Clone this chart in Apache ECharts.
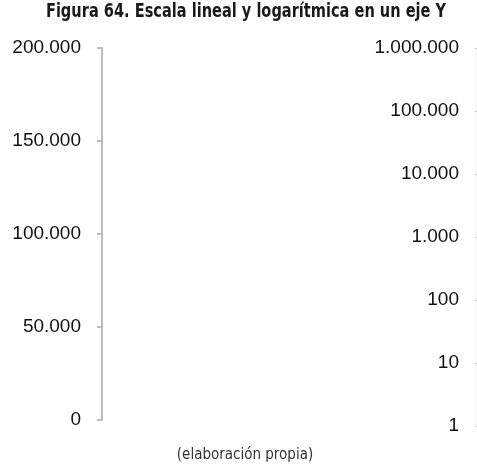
<!DOCTYPE html>
<html>
<head>
<meta charset="utf-8">
<script src="https://cdn.jsdelivr.net/npm/echarts@6/dist/echarts.min.js"></script>
<style>html,body{margin:0;padding:0;background:#fff}#c{width:477px;height:468px}</style>
</head>
<body>
<div id="c"></div>
<script>
var titleText = 'Figura 64. Escala lineal y logarítmica en un eje Y';
var sourceText = '(elaboración propia)';
var linearTicks = [0, 50000, 100000, 150000, 200000];
var logTicks = [1, 10, 100, 1000, 10000, 100000, 1000000];

function fmt(v) {
  return String(Math.round(v)).replace(/\B(?=(\d{3})+(?!\d))/g, '.');
}
var chart = echarts.init(document.getElementById('c'), null, {renderer: 'canvas'});
chart.setOption({
  animation: false,
  backgroundColor: '#fff',
  graphic: [
    {type: 'text', x: 246, y: 12, scaleX: 0.81,
     style: {text: titleText, font: "bold 20px 'DejaVu Sans Condensed', sans-serif",
             fill: '#1a1a1a', textAlign: 'center', textVerticalAlign: 'middle'}},
    {type: 'text', x: 245, y: 455,
     style: {text: sourceText, font: "15px 'DejaVu Sans Condensed', sans-serif",
             fill: '#333', textAlign: 'center', textVerticalAlign: 'middle'}}
  ],
  grid: [
    {left: 102, top: 48, width: 200, bottom: 48},
    {right: 2, top: 48, width: 200, bottom: 42}
  ],
  xAxis: [
    {gridIndex: 0, type: 'value', show: false},
    {gridIndex: 1, type: 'value', show: false}
  ],
  yAxis: [
    {gridIndex: 0, type: 'value', position: 'left',
     min: linearTicks[0], max: linearTicks[linearTicks.length - 1],
     interval: linearTicks[1] - linearTicks[0],
     axisLine: {show: true, onZero: false, lineStyle: {color: '#bdbdbd', width: 2}},
     axisTick: {show: true, length: 5, lineStyle: {color: '#bdbdbd', width: 2}},
     splitLine: {show: false},
     axisLabel: {margin: 21, fontFamily: "'Liberation Sans', Arial, sans-serif", fontSize: 19, color: '#111', formatter: fmt}},
    {gridIndex: 1, type: 'log', logBase: 10, position: 'right',
     min: logTicks[0], max: logTicks[logTicks.length - 1],
     axisLine: {show: true, onZero: false, lineStyle: {color: '#f6f6f6', width: 1}},
     axisTick: {show: true, length: 2, lineStyle: {color: '#cccccc', width: 1}},
     splitLine: {show: false},
     minorTick: {show: false},
     axisLabel: {inside: true, margin: 16, fontFamily: "'Liberation Sans', Arial, sans-serif", fontSize: 19, color: '#111', formatter: fmt}}
  ],
  series: []
});
</script>
</body>
</html>
